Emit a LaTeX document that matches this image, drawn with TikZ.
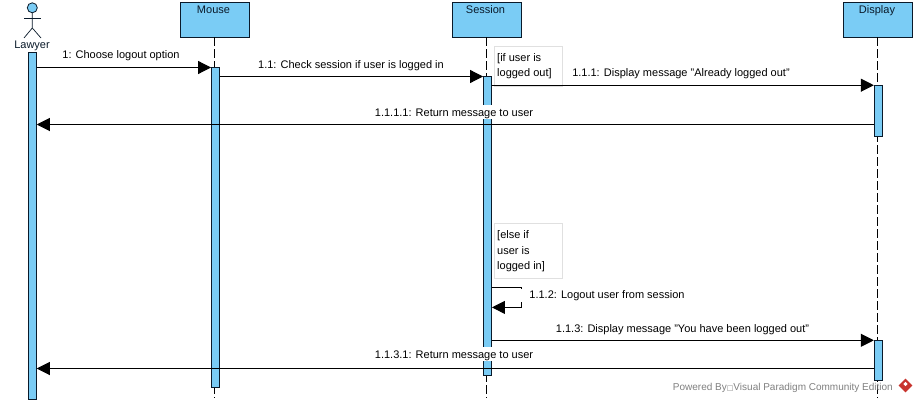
\documentclass[tikz,border=0pt]{standalone}
\usepackage{fontspec}
\setmainfont{Liberation Sans}
\newfontfamily\symfont{DejaVu Sans}
\usetikzlibrary{arrows.meta, positioning, shapes}

\definecolor{umlblue}{HTML}{7ACCF5}
\definecolor{umlline}{HTML}{0A1A2A}
\definecolor{vplogo}{HTML}{C8342E}

\tikzset{
  head/.style    = {draw=umlline, fill=umlblue, line width=0.9pt, minimum width=69pt, minimum height=34.5pt, inner sep=0pt},
  headtxt/.style = {font=\fontsize{11}{12}\selectfont, text=umlline, anchor=base, inner sep=0pt},
  bar/.style     = {draw=umlline, fill=umlblue, line width=0.9pt, minimum width=8pt, inner sep=0pt},
  life/.style    = {draw=black, line width=0.9pt, dash pattern=on 9pt off 3pt},
  msg/.style     = {draw=black, line width=1pt, -{Triangle[length=13pt, width=13pt]}},
  lbl/.style     = {font=\fontsize{11}{12}\selectfont, anchor=base, inner sep=0pt},
  lblw/.style    = {lbl, fill=white, inner ysep=0.5pt, text height=11pt, text depth=2pt},
  guard/.style   = {draw=black!12, fill=white, line width=0.8pt, anchor=north west, inner sep=0pt},
  guardtxt/.style= {font=\fontsize{11}{15.7}\selectfont, align=left, anchor=north west, inner sep=0pt},
}

\begin{document}
\begin{tikzpicture}[x=1pt, y=-1pt]

\useasboundingbox [fill=white] (0,0) rectangle (917,404);

% heads
\node [head] (mouse)   at (215,19.75) {};
\node [head] (session) at (487,19.75) {};
\node [head] (display) at (877.8,19.75) {};
\node [headtxt] (mousetxt)   at (213.5,13.7) {Mouse};
\node [headtxt] (sessiontxt) at (485.5,13.7) {Session};
\node [headtxt] (displaytxt) at (877,13.7)   {Display};

% lifelines
\coordinate (mouseend)   at (214.5,398);
\coordinate (sessionend) at (486,398);
\coordinate (displayend) at (877.5,398);
\draw [life] (214.5,37.2) -- (mouseend);
\draw [life] (486,37.2) -- (sessionend);
\draw [life] (877.5,37.2) -- (displayend);

% bars
\node [bar, minimum height=347.5pt] (barlawyer)  at (32.3,225.75) {};
\node [bar, minimum height=320pt]   (barmouse)   at (215.5,227.5) {};
\node [bar, minimum height=299pt]   (barsession) at (487.5,226) {};
\node [bar, minimum height=51pt]    (bardisp)    at (878.3,110.5) {};
\node [bar, minimum height=40.5pt]  (bardisptwo) at (878.3,360.5) {};

% actor
\node [circle, draw=umlline, fill=umlblue, line width=0.8pt, minimum size=10pt, inner sep=0pt] (actorhead) at (32.3,7.8) {};
\coordinate (hip) at (32.3,28);
\draw [umlline, line width=0.7pt] (actorhead) -- (hip) -- (24,38);
\draw [umlline, line width=0.7pt] (hip) -- (41,38);
\draw [umlline, line width=0.7pt] (24,18.3) -- (41,18.3);
\node [headtxt] (lawyer) at (32,48.7) {Lawyer};

% guards
\node [guard, minimum width=67.5pt, minimum height=39pt] (ifbox)   at (494.2,46.5) {};
\node [guard, minimum width=67.5pt, minimum height=55pt] (elsebox) at (494.2,223.3) {};
\node [guardtxt] (iftxt)   at (497,53)    {[if user is\\logged out]};
\node [guardtxt] (elsetxt) at (497,230.3) {[else if\\user is\\logged in]};

% messages
\draw [msg] (barlawyer.east |- 0,67.5) -- (barmouse.west |- 0,67.5);
\draw [msg] (barmouse.east |- 0,76.5) -- (barsession.west |- 0,76.5);
\draw [msg] (barsession.east |- 0,85.2) -- (bardisp.west |- 0,85.2);
\draw [msg] (bardisp.west |- 0,124.5) -- (barlawyer.east |- 0,124.5);
\draw [msg] (barsession.east |- 0,287.5) -- (521.6,287.5) -- (521.6,307.4) -- (barsession.east |- 0,307.4);
\draw [msg] (barsession.east |- 0,340.3) -- (bardisptwo.west |- 0,340.3);
\draw [msg] (bardisptwo.west |- 0,368.5) -- (barlawyer.east |- 0,368.5);

% labels
\node [lbl]  (m1)    at (121,58.7)    {1: Choose logout option};
\node [lbl]  (m11)   at (351,68)      {1.1: Check session if user is logged in};
\node [lbl]  (m111)  at (681,76.7)    {1.1.1: Display message "Already logged out"};
\node [lblw] (m1111) at (454,116.7)   {1.1.1.1: Return message to user};
\node [lblw, inner xsep=11pt, text height=9.3pt, text depth=3.5pt] (m112) at (607,298.3) {1.1.2: Logout user from session};
\node [lbl]  (m113)  at (682.5,332)   {1.1.3: Display message "You have been logged out"};
\node [lblw] (m1131) at (454,358.3)   {1.1.3.1: Return message to user};

% footer
\node [font=\fontsize{10}{12}\selectfont, text=black!50, anchor=east, inner sep=0pt] (powered) at (893,387.5) {Powered By{\symfont\fontsize{7}{8}\selectfont □}Visual Paradigm Community Edition};
\node [diamond, fill=vplogo, minimum size=14pt, inner sep=0pt] (logo) at (905.5,385.5) {};
\node [diamond, fill=white, minimum size=4.5pt, inner sep=0pt] (logoin) at (905.5,384) {};

\end{tikzpicture}
\end{document}
